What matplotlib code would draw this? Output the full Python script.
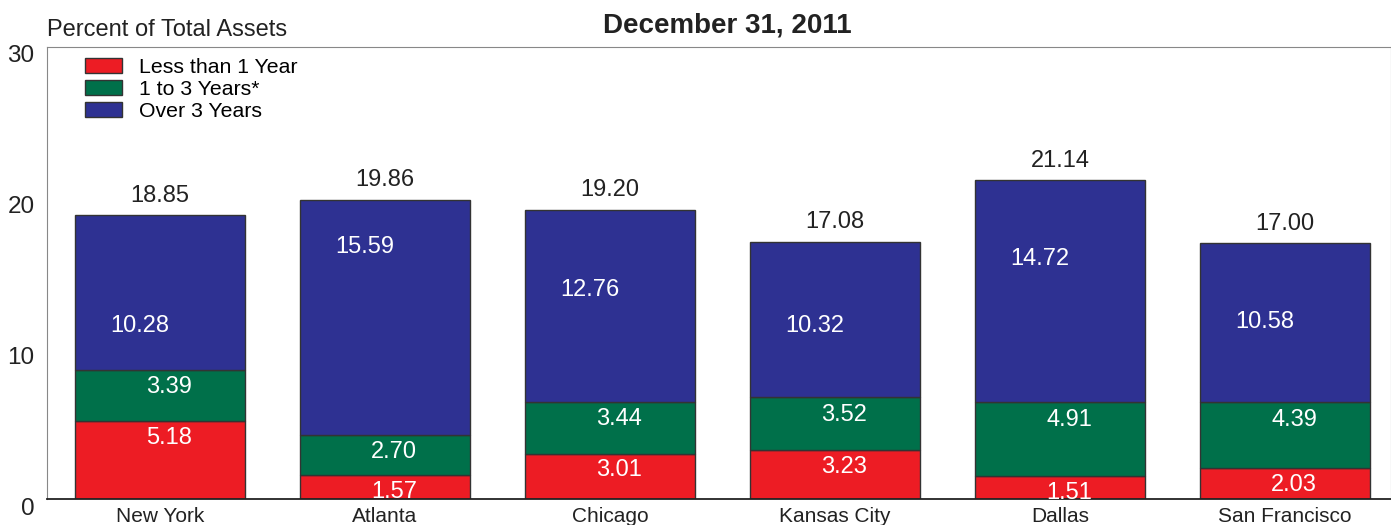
import numpy as np
import matplotlib.pyplot as plt
import matplotlib.transforms as mtransforms
from matplotlib.patches import Patch

plt.rcParams['font.family'] = ['Liberation Sans', 'DejaVu Sans']

# Data
banks = ["New York", "Atlanta", "Chicago", "Kansas City", "Dallas", "San Francisco"]
less_1yr = [5.18, 1.57, 3.01, 3.23, 1.51, 2.03]
one_to_3 = [3.39, 2.70, 3.44, 3.52, 4.91, 4.39]
over_3 = [10.28, 15.59, 12.76, 10.32, 14.72, 10.58]
totals = [18.85, 19.86, 19.20, 17.08, 21.14, 17.00]

# where the "over 3 years" numbers sit inside the blue block (as in the original)
blue_lbl_y = [11.5, 16.7, 13.9, 11.5, 15.9, 11.75]

red = '#ED1C24'
green = '#00704A'
blue = '#2E3192'

x = np.arange(len(banks))
w = 0.756
b2 = np.array(less_1yr)
b3 = b2 + np.array(one_to_3)

fig = plt.figure(figsize=(13.91, 5.25), dpi=100)
ax = fig.add_axes([0.0338, 0.0495, 0.9662, 0.861])

ax.bar(x, less_1yr, w, color=red, edgecolor='#333333', linewidth=1)
ax.bar(x, one_to_3, w, bottom=b2, color=green, edgecolor='#333333', linewidth=1)
ax.bar(x, over_3, w, bottom=b3, color=blue, edgecolor='#333333', linewidth=1)

fs = 17
for i in range(len(banks)):
    ax.text(x[i] + 0.04, b2[i] - 1.1, f"{less_1yr[i]:.2f}", color='white', fontsize=fs,
            ha='center', va='center')
    ax.text(x[i] + 0.04, b3[i] - 1.15, f"{one_to_3[i]:.2f}", color='white', fontsize=fs,
            ha='center', va='center')
    ax.text(x[i] - 0.09, blue_lbl_y[i], f"{over_3[i]:.2f}", color='white', fontsize=fs,
            ha='center', va='center')
    ax.text(x[i], totals[i] + 0.55, f"{totals[i]:.2f}", color='#222222', fontsize=fs,
            ha='center', va='bottom')

ax.set_xlim(-0.502, 5.47)
ax.set_ylim(0, 30)
ax.set_yticks([0, 10, 20, 30])
ax.set_xticks(x)
ax.set_xticklabels(banks)
ax.tick_params(axis='both', length=0, colors='#222222')
ax.tick_params(axis='x', labelsize=15, pad=6)
ax.tick_params(axis='y', labelsize=17.5, pad=9)
# y labels sit a little below their gridline in the original
off = mtransforms.ScaledTranslation(0, -7 / 100, fig.dpi_scale_trans)
for lbl in ax.get_yticklabels():
    lbl.set_transform(lbl.get_transform() + off)
for s in ['left', 'top', 'right']:
    ax.spines[s].set_color('#888888')
ax.spines['bottom'].set_color('#222222')
ax.spines['bottom'].set_linewidth(1.3)

handles = [Patch(facecolor=red, edgecolor='#333333', label='Less than 1 Year'),
           Patch(facecolor=green, edgecolor='#333333', label='1 to 3 Years*'),
           Patch(facecolor=blue, edgecolor='#333333', label='Over 3 Years')]
ax.legend(handles=handles, loc='upper left', bbox_to_anchor=(0.017, 1.008), frameon=False,
          fontsize=15.3, handlelength=1.75, handleheight=0.7, labelspacing=0.13,
          handletextpad=0.8, borderaxespad=0.3)

fig.text(0.034, 0.943, "Percent of Total Assets", fontsize=17, color='#222222', va='center')
fig.text(0.523, 0.951, "December 31, 2011", fontsize=20, fontweight='bold', color='#222222',
         ha='center', va='center')

fig.savefig('out.png', dpi=100)
